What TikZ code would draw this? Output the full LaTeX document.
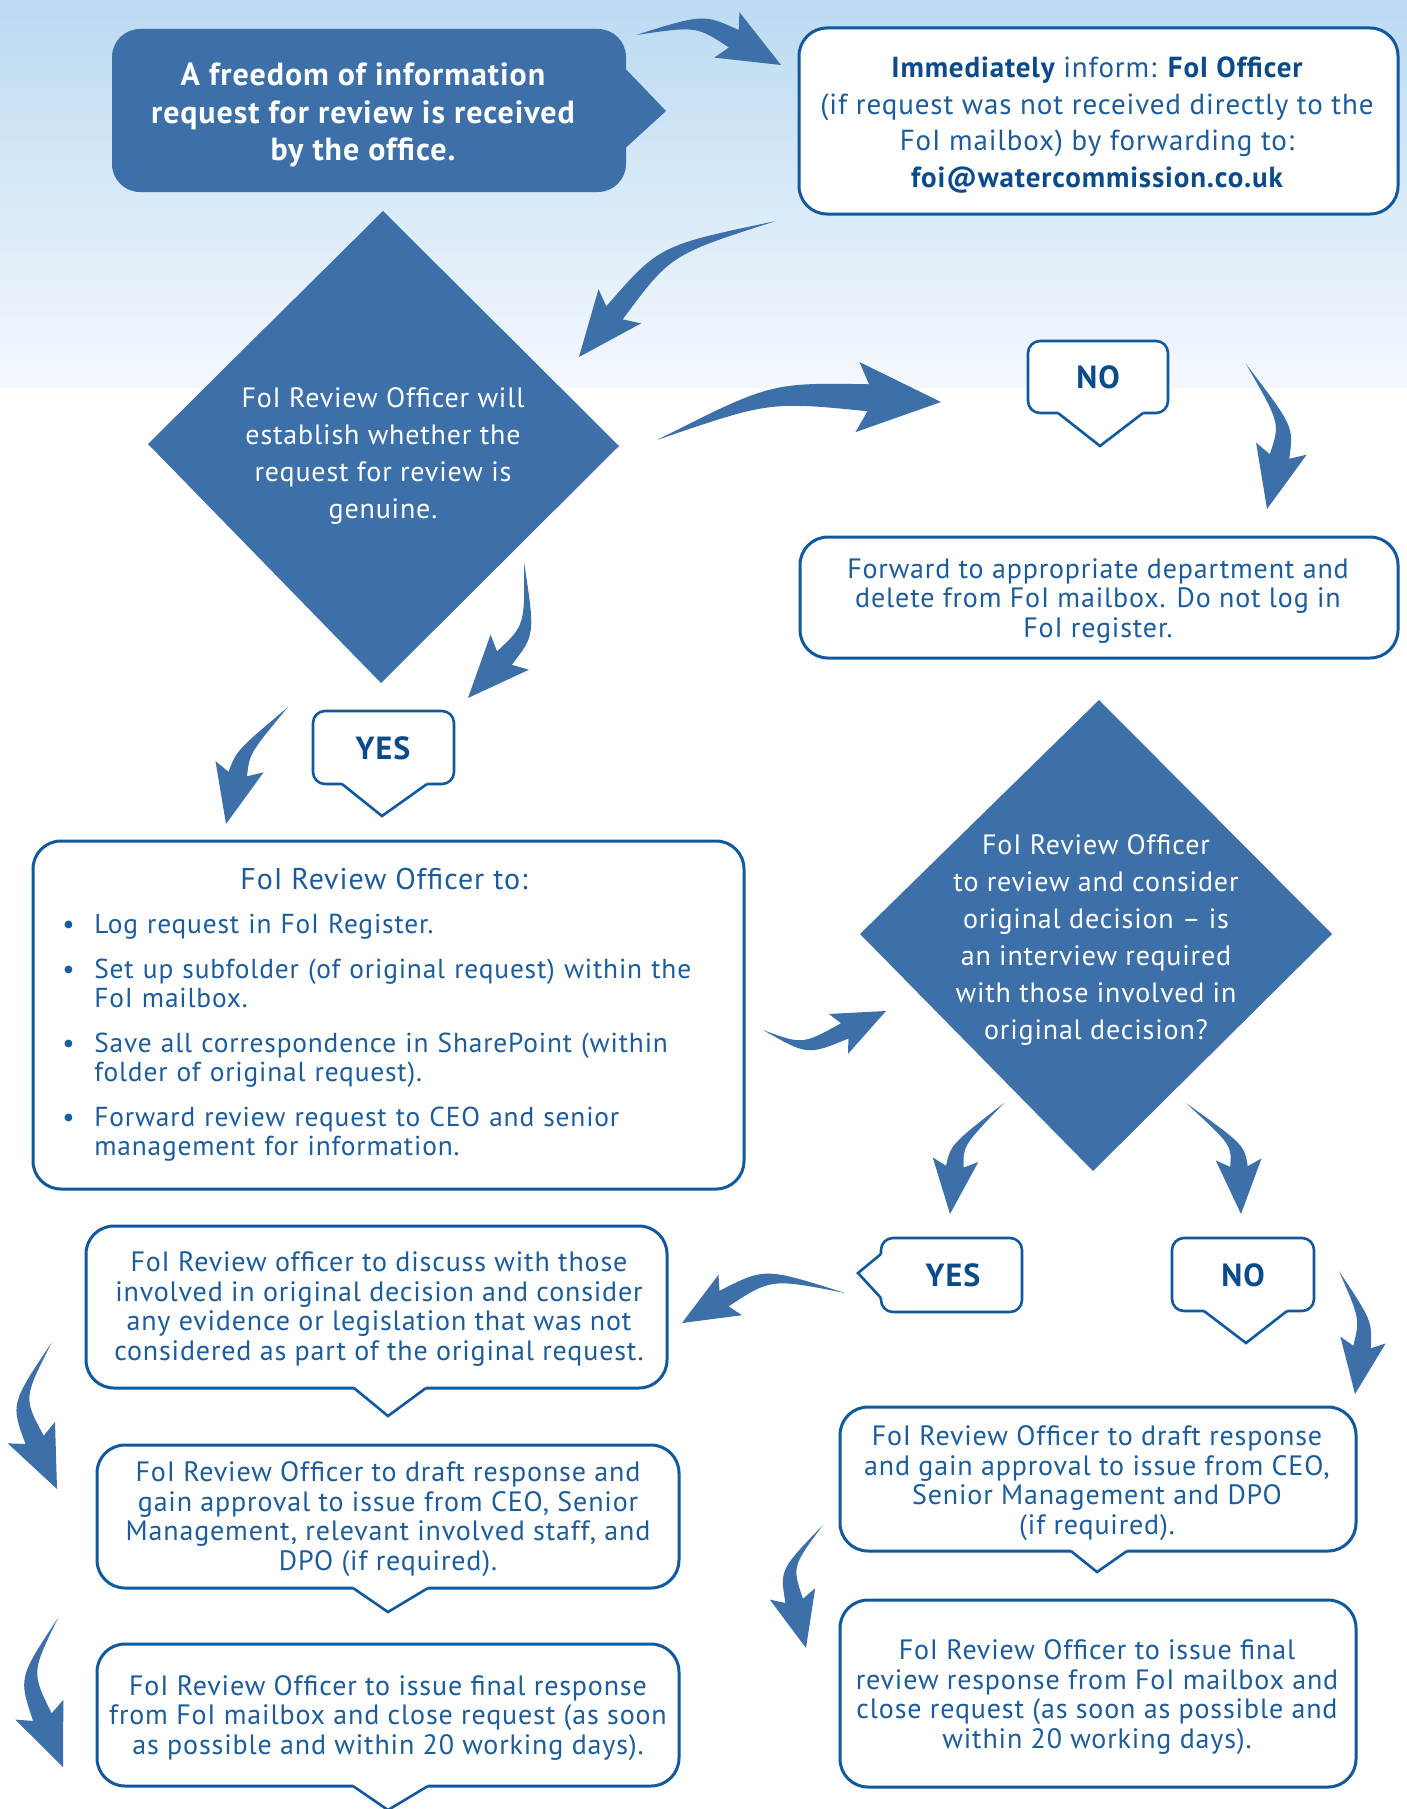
\documentclass[tikz,border=0pt]{standalone}
\usepackage{fontspec}
\setmainfont{PT Sans}[LetterSpace=3]
\usetikzlibrary{calc}
\definecolor{dfill}{HTML}{3D70A8}
\definecolor{bline}{HTML}{11599C}
\definecolor{btext}{HTML}{1D5C9A}
\definecolor{navy}{HTML}{0C4B8A}
\definecolor{bgtop}{HTML}{BBDAF1}
\definecolor{bgbot}{HTML}{F4F8FD}
\newcommand{\swoosh}[4][1]{%
  \pgfmathsetmacro{\swhl}{#1*27}%
  \pgfmathsetmacro{\swhb}{#1*31}%
  \pgfmathsetmacro{\swhw}{#1*13}%
  \pgfmathsetmacro{\swbw}{#1*5}%
  \pgfmathsetmacro{\swcw}{#1*3.5}%
  \coordinate (swS) at (#2);
  \coordinate (swC) at (#3);
  \coordinate (swT) at (#4);
  \coordinate (swB) at ($(swT)!\swhl pt!(swC)$);
  \coordinate (swN) at ($(swT)!\swhb pt!(swC)$);
  \coordinate (swJa) at ($(swB)!\swbw pt!90:(swT)$);
  \coordinate (swJb) at ($(swB)!\swbw pt!-90:(swT)$);
  \coordinate (swKa) at ($(swN)!\swhw pt!90:(swT)$);
  \coordinate (swKb) at ($(swN)!\swhw pt!-90:(swT)$);
  \coordinate (swCa) at ($(swC)!\swcw pt!90:(swT)$);
  \coordinate (swCb) at ($(swC)!\swcw pt!-90:(swT)$);
  \fill[arrowfill] (swS) .. controls (swCa) .. (swJa) -- (swKa) -- (swT) -- (swKb) -- (swJb) .. controls (swCb) .. (swS) -- cycle;
}
\newcommand{\ptrdown}[5]{%
  \fill[white] (#1,#3-4) -- (#2,#3-4) -- (#2,#3) -- (#4,#5) -- (#1,#3) -- cycle;
  \draw[ptrline] (#1,#3) -- (#4,#5) -- (#2,#3);
}
\newcommand{\bitem}[1]{\hangindent=16pt\hangafter=1\noindent\makebox[16pt][l]{\textbullet}#1\par}
\begin{document}
\begin{tikzpicture}[x=0.5pt,y=-0.5pt,
  wbox/.style={draw=bline, line width=1.5pt, fill=white, rounded corners=14pt},
  bubble/.style={draw=bline, line width=1.3pt, fill=white, rounded corners=6pt},
  ptrline/.style={draw=bline, line width=1.3pt, line join=miter},
  arrowfill/.style={fill=dfill},
  txt/.style={text=btext, font=\fontsize{14}{14.75}\selectfont, align=center, inner sep=0pt},
  trtxt/.style={text=btext, font=\fontsize{14.5}{18.3}\selectfont, align=center, inner sep=0pt},
  dtxt/.style={text=white, font=\fontsize{14}{18.5}\selectfont, align=center, inner sep=0pt},
  hdtxt/.style={text=white, font=\bfseries\fontsize{16}{18.75}\selectfont, align=center, inner sep=0pt},
  lbl/.style={text=navy, font=\bfseries\fontsize{16}{18}\selectfont, inner sep=0pt}
]
\useasboundingbox (0,0) rectangle (1407,1809);
\fill[white] (0,0) rectangle (1407,1809);
\shade[top color=bgtop, bottom color=bgbot] (0,0) rectangle (1407,387);

% start box
\fill[dfill, rounded corners=14pt] (112,29) rectangle (626,192);
\fill[dfill] (620,63) -- (666,111) -- (620,153) -- cycle;
\node[hdtxt] (start) at (363,115) {A freedom of information\\request for review is received\\by the office.};

% inform box
\draw[wbox] (799,28) rectangle (1398,214);
\node[trtxt] (inform) at (1097,125) {{\color{navy}\bfseries Immediately} inform: {\color{navy}\bfseries FoI Officer}\\(if request was not received directly to the\\FoI mailbox) by forwarding to:\\{\color{navy}\bfseries foi@watercommission.co.uk}};

% diamond 1
\fill[dfill] (383,211) -- (619,446) -- (381,683) -- (148,444) -- cycle;
\node[dtxt] (genuine) at (383,456) {FoI Review Officer will\\establish whether the\\request for review is\\genuine.};

% NO 1
\draw[bubble] (1028,341) rectangle (1168,413);
\ptrdown{1058}{1143}{413}{1100}{446}
\node[lbl] (no1) at (1098,377) {NO};

% forward box
\draw[wbox] (800,537) rectangle (1398,658);
\node[txt] (forward) at (1098,601) {Forward to appropriate department and\\delete from FoI mailbox. Do not log in\\FoI register.};

% YES 1
\draw[bubble] (313,711) rectangle (454,784);
\ptrdown{342}{427}{784}{382}{816}
\node[lbl] (yes1) at (383,748) {YES};

% big list box
\draw[wbox] (33,841) rectangle (744,1189);
\node[txt, font=\fontsize{15}{15}\selectfont] (listtitle) at (384,879) {FoI Review Officer to:};
\node[txt, align=left, text width=340pt, anchor=north west, font=\fontsize{13.7}{14.75}\selectfont] (todo) at (62,914) {\setlength{\parskip}{7.5pt}\hyphenpenalty=10000\exhyphenpenalty=10000%
\bitem{Log request in FoI Register.}
\bitem{Set up subfolder (of original request) within the\newline FoI mailbox.}
\bitem{Save all correspondence in SharePoint (within\newline folder of original request).}
\bitem{Forward review request to CEO and senior\newline management for information.}};

% diamond 2
\fill[dfill] (1099,700) -- (1332,934) -- (1093,1171) -- (860,934) -- cycle;
\node[dtxt] (interview) at (1096,940) {FoI Review Officer\\to review and consider\\original decision – is\\an interview required\\with those involved in\\original decision?};

% YES 2 (pointer left)
\draw[bubble] (881,1238) rectangle (1022,1312);
\fill[white] (885,1254) -- (885,1298) -- (881,1298) -- (858,1273) -- (881,1254) -- cycle;
\draw[ptrline] (881,1254) -- (858,1273) -- (881,1298);
\node[lbl] (yes2) at (953,1275) {YES};

% NO 2
\draw[bubble] (1172,1238) rectangle (1314,1311);
\ptrdown{1204}{1287}{1311}{1246}{1343}
\node[lbl] (no2) at (1243,1275) {NO};

% left column boxes
\draw[wbox] (86,1226) rectangle (667,1388);
\ptrdown{354}{426}{1388}{388}{1416}
\node[txt] (discuss) at (379,1309) {FoI Review officer to discuss with those\\involved in original decision and consider\\any evidence or legislation that was not\\considered as part of the original request.};

\draw[wbox] (97,1445) rectangle (679,1588);
\ptrdown{353}{428}{1588}{388}{1612}
\node[txt] (ldraft) at (388,1519) {FoI Review Officer to draft response and\\gain approval to issue from CEO, Senior\\Management, relevant involved staff, and\\DPO (if required).};

\draw[wbox] (97,1644) rectangle (679,1786);
\ptrdown{353}{428}{1786}{388}{1810}
\node[txt] (lfinal) at (388,1718) {FoI Review Officer to issue final response\\from FoI mailbox and close request (as soon\\as possible and within 20 working days).};

% right column boxes
\draw[wbox] (840,1407) rectangle (1356,1551);
\ptrdown{1071}{1127}{1551}{1097}{1572}
\node[txt] (rdraft) at (1097,1483) {FoI Review Officer to draft response\\and gain approval to issue from CEO,\\Senior Management and DPO\\(if required).};

\draw[wbox] (840,1600) rectangle (1356,1787);
\node[txt] (rfinal) at (1097,1697) {FoI Review Officer to issue final\\review response from FoI mailbox and\\close request (as soon as possible and\\within 20 working days).};

% connector end points
\coordinate (a1s) at (636,35);   \coordinate (a1c) at (700,20);   \coordinate (a1t) at (781,65);
\coordinate (a2s) at (776,221);  \coordinate (a2c) at (665,250);  \coordinate (a2t) at (579,357);
\coordinate (a3s) at (657,440);  \coordinate (a3c) at (770,392);  \coordinate (a3t) at (941,402);
\coordinate (a4s) at (1246,364); \coordinate (a4c) at (1287,425); \coordinate (a4t) at (1267,509);
\coordinate (a5s) at (524,562);  \coordinate (a5c) at (530,630);  \coordinate (a5t) at (468,698);
\coordinate (a6s) at (288,707);  \coordinate (a6c) at (243,752);  \coordinate (a6t) at (226,824);
\coordinate (a7s) at (763,1030); \coordinate (a7c) at (805,1050); \coordinate (a7t) at (886,1011);
\coordinate (a8s) at (1004,1103);\coordinate (a8c) at (957,1145); \coordinate (a8t) at (950,1214);
\coordinate (a9s) at (1186,1103);\coordinate (a9c) at (1238,1145);\coordinate (a9t) at (1241,1214);
\coordinate (a10s) at (845,1293);\coordinate (a10c) at (768,1273);\coordinate (a10t) at (682,1323);
\coordinate (a11s) at (1339,1271);\coordinate (a11c) at (1366,1320);\coordinate (a11t) at (1355,1394);
\coordinate (a12s) at (52,1342); \coordinate (a12c) at (17,1401); \coordinate (a12t) at (57,1489);
\coordinate (a13s) at (58,1618); \coordinate (a13c) at (25,1675); \coordinate (a13t) at (63,1767);
\coordinate (a14s) at (823,1525);\coordinate (a14c) at (786,1568);\coordinate (a14t) at (806,1648);

\swoosh{a1s}{a1c}{a1t}
\swoosh[1.05]{a2s}{a2c}{a2t}
\swoosh[1.35]{a3s}{a3c}{a3t}
\swoosh{a4s}{a4c}{a4t}
\swoosh{a5s}{a5c}{a5t}
\swoosh[0.95]{a6s}{a6c}{a6t}
\swoosh[0.85]{a7s}{a7c}{a7t}
\swoosh[0.88]{a8s}{a8c}{a8t}
\swoosh[0.88]{a9s}{a9c}{a9t}
\swoosh[0.9]{a10s}{a10c}{a10t}
\swoosh[0.88]{a11s}{a11c}{a11t}
\swoosh{a12s}{a12c}{a12t}
\swoosh{a13s}{a13c}{a13t}
\swoosh[0.9]{a14s}{a14c}{a14t}
\end{tikzpicture}
\end{document}
